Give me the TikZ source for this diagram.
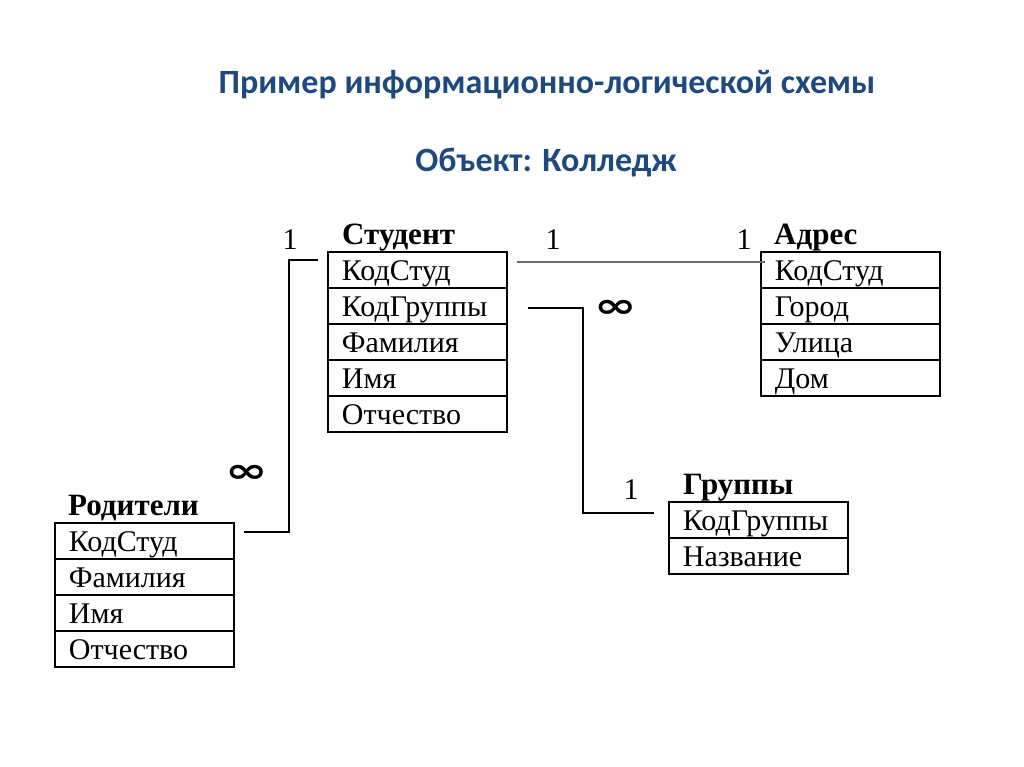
\documentclass[tikz,border=0pt]{standalone}
\usepackage{fontspec}
\usepackage{graphicx}
\setmainfont{Liberation Serif}
\newfontfamily\titlefont{Carlito}
\newfontfamily\symfont{DejaVu Sans}
\usetikzlibrary{calc}
\definecolor{titleblue}{HTML}{1F497D}
\newcommand{\infsym}{\scalebox{1.5}[1.0]{\symfont\bfseries ∞}}
\begin{document}
\begin{tikzpicture}[x=1pt,y=-1pt,
  row/.style={draw,line width=1.8pt,rectangle,anchor=north west,minimum width=179pt,minimum height=36pt,
    inner xsep=14pt,inner ysep=0pt,text width=151pt,align=left,text height=24pt,text depth=3pt,
    font=\fontsize{30}{32}\selectfont},
  tabtitle/.style={anchor=base west,inner sep=0pt,font=\fontsize{31}{32}\selectfont\bfseries},
  card/.style={inner sep=0pt,font=\fontsize{30}{32}\selectfont},
  inf/.style={inner sep=0pt,font=\fontsize{34}{36}\selectfont},
  link/.style={line width=1.8pt},
  ttl/.style={text=titleblue,font=\titlefont\bfseries\fontsize{34}{38}\selectfont}]
\useasboundingbox (0,0) rectangle (1024,767);
\fill[white] (0,0) rectangle (1024,767);

\node[ttl] (title) at (547,85) {Пример информационно-логической схемы};
\node[ttl] (subtitle) at (546,163) {Объект: Колледж};

% Student
\node[tabtitle] (st) at (342,244) {Студент};
\node[row] (s1) at (327,251) {КодСтуд};
\node[row] (s2) at (327,287) {КодГруппы};
\node[row] (s3) at (327,323) {Фамилия};
\node[row] (s4) at (327,359) {Имя};
\node[row] (s5) at (327,395) {Отчество};

% Address
\node[tabtitle] (at) at (774,244) {Адрес};
\node[row] (a1) at (760,251) {КодСтуд};
\node[row] (a2) at (760,287) {Город};
\node[row] (a3) at (760,323) {Улица};
\node[row] (a4) at (760,359) {Дом};

% Parents
\node[tabtitle] (pt) at (68,515) {Родители};
\node[row] (p1) at (54,522) {КодСтуд};
\node[row] (p2) at (54,558) {Фамилия};
\node[row] (p3) at (54,594) {Имя};
\node[row] (p4) at (54,630) {Отчество};

% Groups
\node[tabtitle] (gt) at (683,494) {Группы};
\node[row] (g1) at (668,501) {КодГруппы};
\node[row] (g2) at (668,537) {Название};

% connectors
\coordinate (c1) at ($(p1.east)+(9,-9)$);
\coordinate (c2) at ($(s1.west)+(-9,-10)$);
\draw[link] (c1) -- ++(45,0) |- (c2);

\coordinate (c3) at ($(s1.east)+(9,-8)$);
\coordinate (c4) at ($(a1.west)+(5,-8)$);
\draw[link,gray!85!black] (c3) -- (c4);

\coordinate (c5) at ($(s2.east)+(20,2)$);
\coordinate (c6) at ($(g1.west)+(-14,-7)$);
\draw[link] (c5) -- ++(55,0) |- (c6);

% cardinalities
\node[card] (l1) at (290,240) {1};
\node[inf] (l2) at (247,474) {\infsym};
\node[card] (l3) at (553,240) {1};
\node[card] (l4) at (744,240) {1};
\node[inf] (l5) at (616,309) {\infsym};
\node[card] (l6) at (631,490) {1};
\end{tikzpicture}
\end{document}
